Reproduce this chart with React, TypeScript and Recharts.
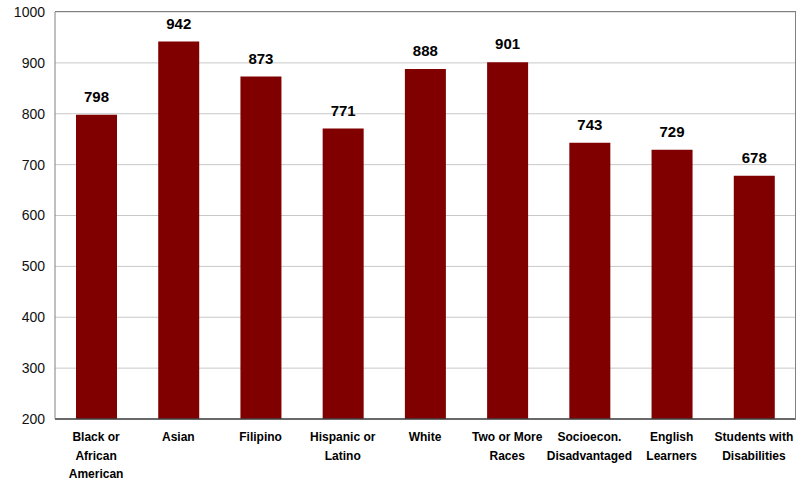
import { BarChart, Bar, XAxis, YAxis, CartesianGrid, LabelList } from 'recharts';

const categories = [
  'Black or African American',
  'Asian',
  'Filipino',
  'Hispanic or Latino',
  'White',
  'Two or More Races',
  'Socioecon. Disadvantaged',
  'English Learners',
  'Students with Disabilities',
];

const scores = [798, 942, 873, 771, 888, 901, 743, 729, 678];

const tickLines = [
  ['Black or', 'African', 'American'],
  ['Asian'],
  ['Filipino'],
  ['Hispanic or', 'Latino'],
  ['White'],
  ['Two or More', 'Races'],
  ['Socioecon.', 'Disadvantaged'],
  ['English', 'Learners'],
  ['Students with', 'Disabilities'],
];

const yTicks = [200, 300, 400, 500, 600, 700, 800, 900, 1000];

const data = categories.map((name, i) => ({ name, score: scores[i] }));

const FONT = '"Liberation Sans", Arial, sans-serif';

// category labels broken over several lines
const CategoryTick = (props: any) => {
  const { x, y, payload } = props;
  const lines = tickLines[categories.indexOf(payload.value)] || [payload.value];
  return (
    <text
      x={x}
      y={y + 22}
      textAnchor='middle'
      fontFamily={FONT}
      fontSize={12}
      fontWeight='bold'
      fill='#000'
    >
      {lines.map((line: string, i: number) => (
        <tspan key={i} x={x} dy={i === 0 ? 0 : 18.5}>
          {line}
        </tspan>
      ))}
    </text>
  );
};

export default function App() {
  return (
    <div style={{ position: 'absolute', left: 0, top: 0, background: '#fff' }}>
      <BarChart
        width={805}
        height={480}
        data={data}
        margin={{ top: 12, right: 10, left: 0, bottom: 0 }}
      >
        <CartesianGrid vertical={false} stroke='#c8c8c8' />
        <XAxis
          dataKey='name'
          height={61}
          interval={0}
          tickLine={false}
          tickSize={0}
          tickMargin={0}
          axisLine={{ stroke: '#404040', strokeWidth: 1.5 }}
          tick={<CategoryTick />}
        />
        <YAxis
          width={55}
          domain={[200, 1000]}
          ticks={yTicks}
          tickLine={false}
          tickSize={0}
          tickMargin={10}
          axisLine={{ stroke: '#808080' }}
          tick={{ fontFamily: FONT, fontSize: 14, fill: '#111' }}
        />
        <Bar dataKey='score' fill='#800000' barSize={41} isAnimationActive={false}>
          <LabelList
            dataKey='score'
            position='top'
            offset={13}
            fontFamily={FONT}
            fontSize={15}
            fontWeight='bold'
            fill='#000'
          />
        </Bar>
      </BarChart>
      {/* plot frame: top and right edges */}
      <div
        style={{
          position: 'absolute',
          left: 55,
          top: 11,
          width: 740,
          height: 408,
          borderTop: '1px solid #808080',
          borderRight: '1px solid #808080',
          pointerEvents: 'none',
        }}
      />
    </div>
  );
}
